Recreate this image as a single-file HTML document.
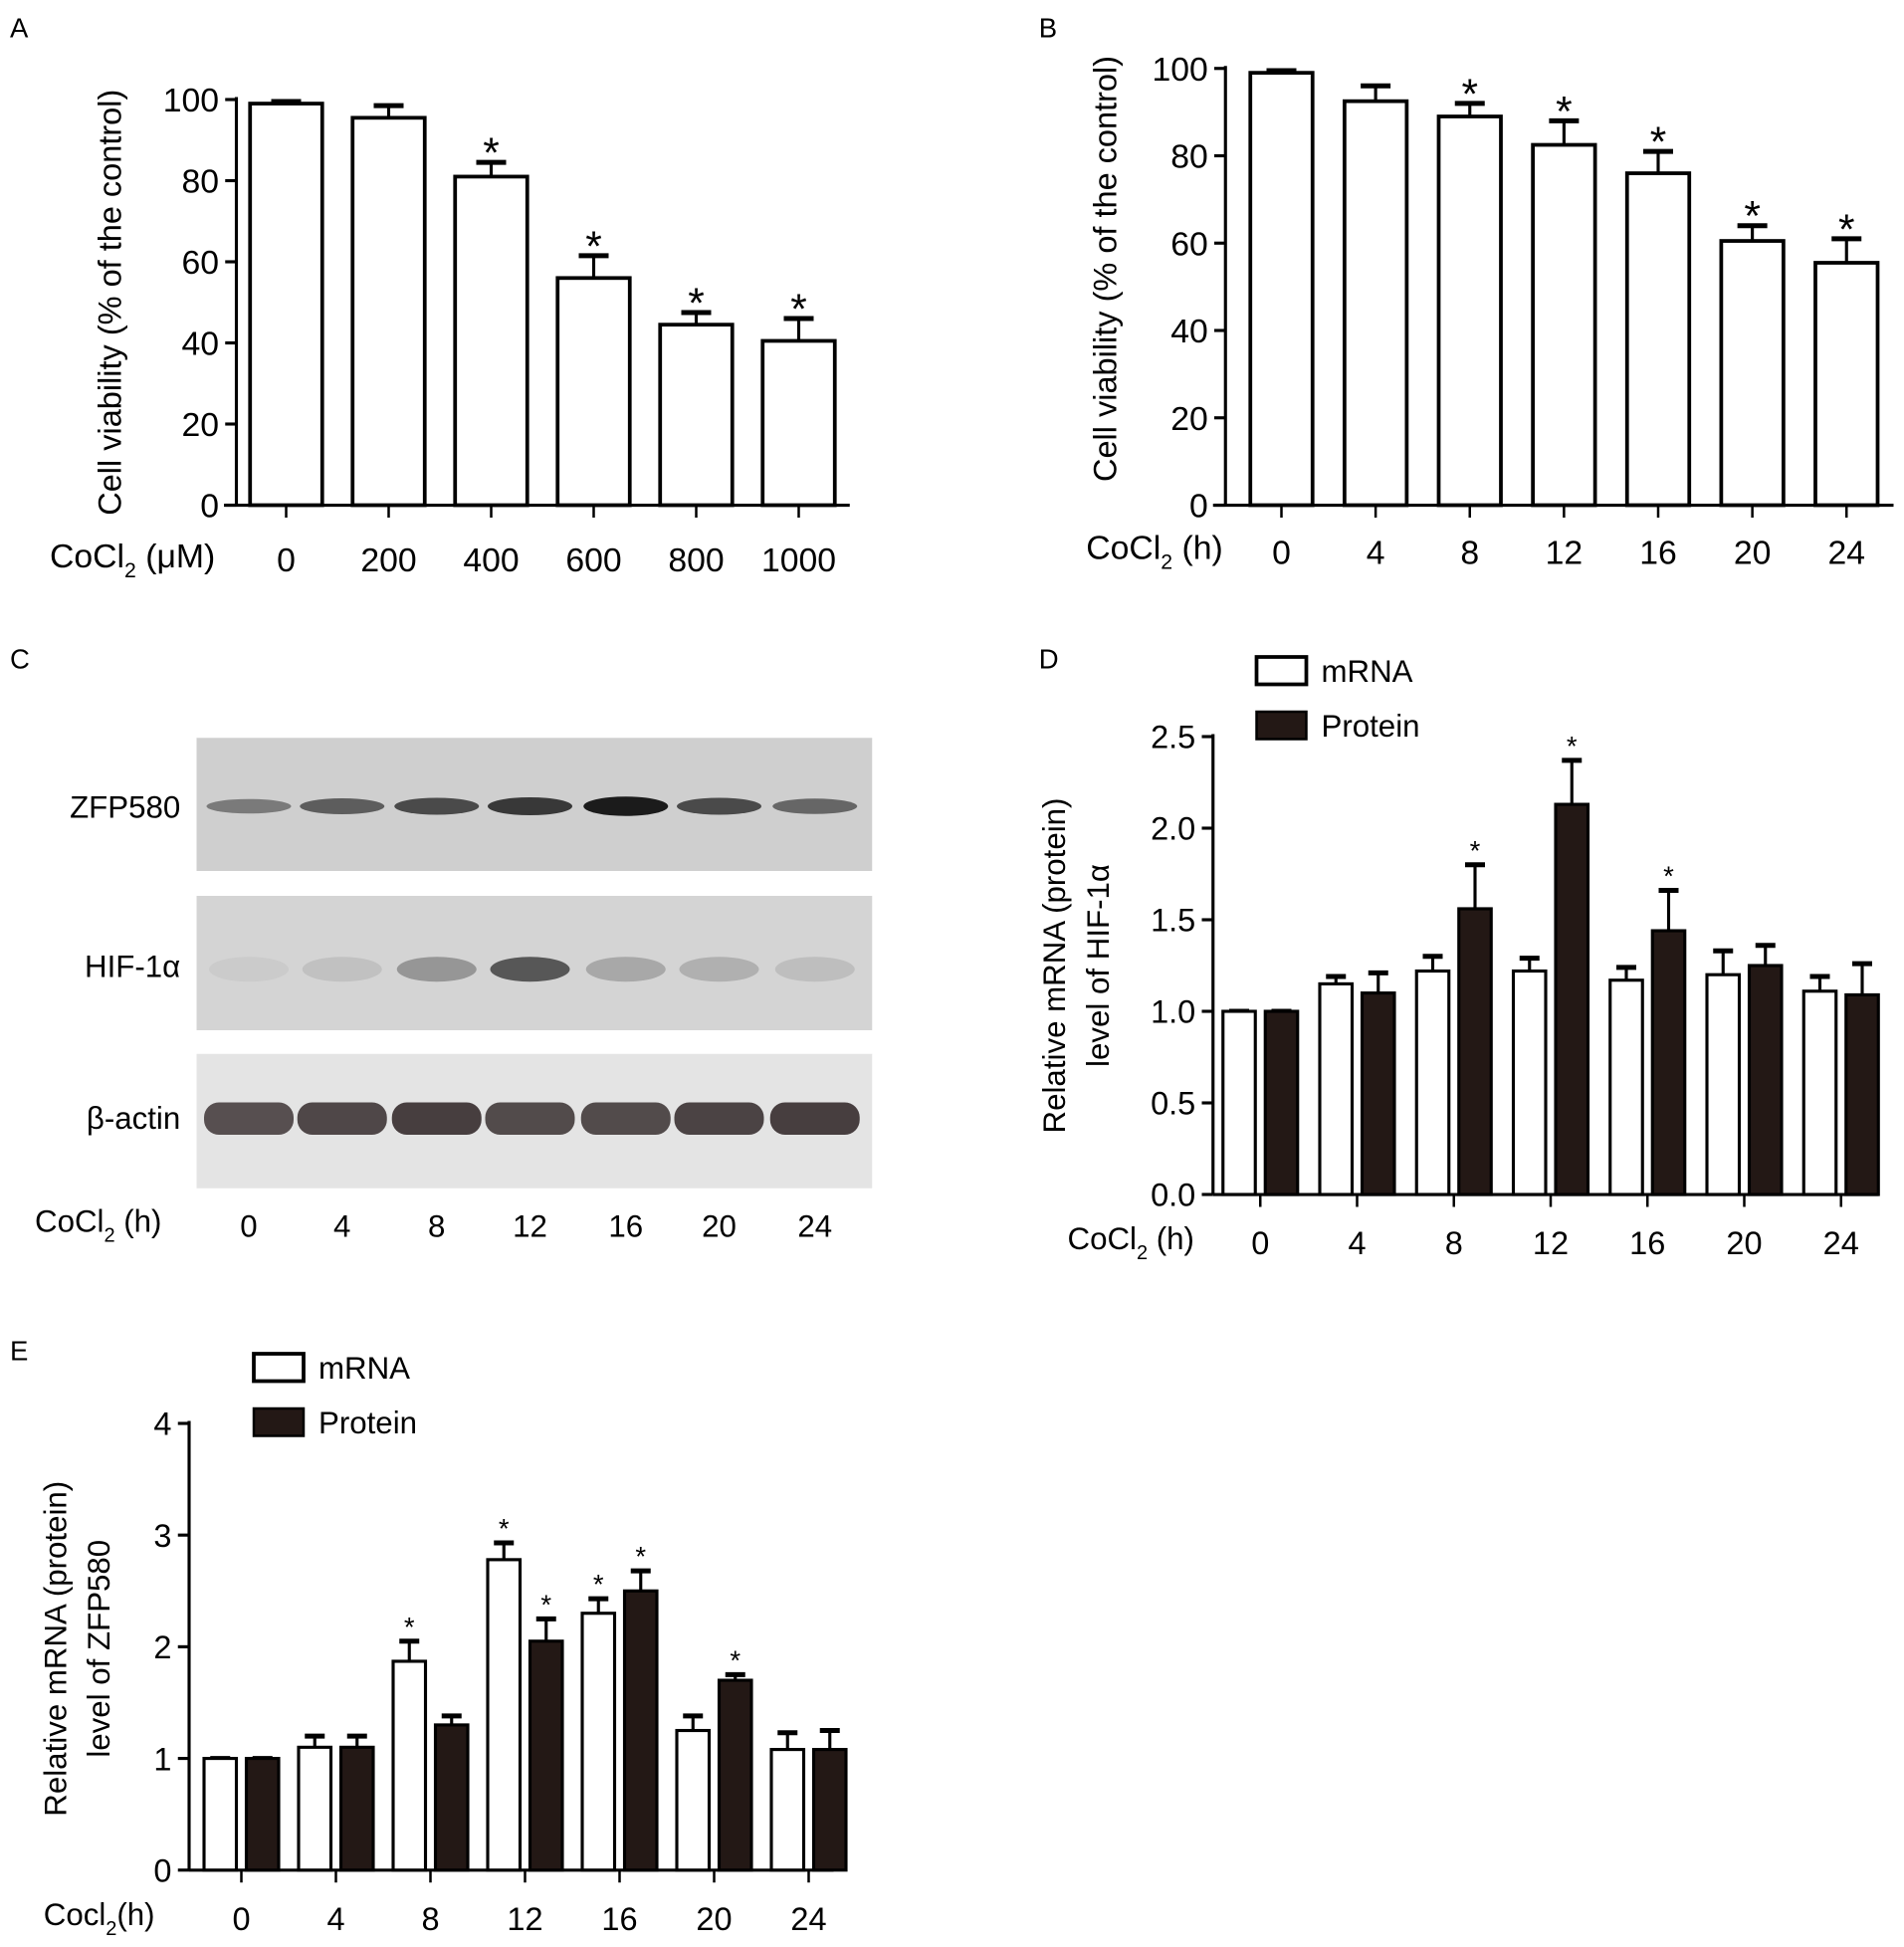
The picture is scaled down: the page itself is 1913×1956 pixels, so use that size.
<!DOCTYPE html>
<html><head><meta charset="utf-8"><style>
html,body{margin:0;padding:0;background:#fff;}
svg{display:block;font-family:"Liberation Sans",Arial,sans-serif;}
</style></head><body>
<svg id="fig" width="1913" height="1956" viewBox="0 0 1530.4 1564.8" xmlns="http://www.w3.org/2000/svg">
<g id="blots">
  <text x="8" y="537" font-size="22">C</text>
  <rect x="158" y="593" width="543" height="107" fill="#cfcfcf"/>
  <rect x="158" y="720" width="543" height="108" fill="#d4d4d4"/>
  <rect x="158" y="847" width="543" height="108" fill="#e4e4e4"/>
  <text x="145" y="657" font-size="25" text-anchor="end">ZFP580</text>
  <text x="145" y="785" font-size="25" text-anchor="end">HIF-1α</text>
  <text x="145" y="907" font-size="25" text-anchor="end">β-actin</text>
  <text x="28" y="990" font-size="25">CoCl<tspan font-size="16" dy="8">2</tspan><tspan dy="-8"> (h)</tspan></text>
</g>
<text x="40" y="456" font-size="27">CoCl<tspan font-size="17" dy="8">2</tspan><tspan dy="-8"> (μM)</tspan></text>
<text x="873" y="449" font-size="27">CoCl<tspan font-size="17" dy="8">2</tspan><tspan dy="-8"> (h)</tspan></text>
<text x="858" y="1004" font-size="25">CoCl<tspan font-size="16" dy="8">2</tspan><tspan dy="-8"> (h)</tspan></text>
<text x="35" y="1547" font-size="25">Cocl<tspan font-size="16" dy="8">2</tspan><tspan dy="-8">(h)</tspan></text>
<script>
const NS='http://www.w3.org/2000/svg';
const svg=document.getElementById('fig');
function mk(tag,attrs,parent){const e=document.createElementNS(NS,tag);for(const k in attrs)e.setAttribute(k,attrs[k]);(parent||svg).appendChild(e);return e;}

// ---------- data ----------
const catsA=['0','200','400','600','800','1000'];
const valsA=[99,95.5,81,56,44.5,40.5];
const errA=[0.5,3,3.5,5.5,3,5.5];
const starA=[false,false,true,true,true,true];
const ticksA=[0,20,40,60,80,100];

const catsB=['0','4','8','12','16','20','24'];
const valsB=[99,92.5,89,82.5,76,60.5,55.5];
const errB=[0.5,3.5,3,5.5,5,3.5,5.5];
const starB=[false,false,true,true,true,true,true];
const ticksB=[0,20,40,60,80,100];

const catsD=['0','4','8','12','16','20','24'];
const mrnaD=[1,1.15,1.22,1.22,1.17,1.2,1.11];
const mrnaErrD=[0,0.04,0.08,0.07,0.07,0.13,0.08];
const protD=[1,1.1,1.56,2.13,1.44,1.25,1.09];
const protErrD=[0,0.11,0.24,0.24,0.22,0.11,0.17];
const mrnaStarD=[false,false,false,false,false,false,false];
const protStarD=[false,false,true,true,true,false,false];
const ticksD=['0.0','0.5','1.0','1.5','2.0','2.5'];

const catsE=['0','4','8','12','16','20','24'];
const mrnaE=[1,1.1,1.87,2.78,2.3,1.25,1.08];
const mrnaErrE=[0,0.1,0.18,0.15,0.13,0.13,0.15];
const protE=[1,1.1,1.3,2.05,2.5,1.7,1.08];
const protErrE=[0,0.1,0.08,0.2,0.18,0.05,0.17];
const mrnaStarE=[false,false,true,true,true,false,false];
const protStarE=[false,false,false,true,true,true,false];
const ticksE=['0','1','2','3','4'];

const zfpInt=[0.45,0.6,0.7,0.8,0.95,0.7,0.55];
const hifInt=[0.05,0.1,0.35,0.7,0.25,0.2,0.12];
const actinInt=[0.85,0.9,0.95,0.88,0.88,0.92,0.95];

function axes(g,cfg){
  const {ax,y0,y1,xEnd,xStart,vmax,ticks,tickFs}=cfg;
  const y=v=>y0-(v/vmax)*(y0-y1);
  mk('line',{x1:ax,y1:y1-2,x2:ax,y2:y0,stroke:'#000','stroke-width':2.5},g);
  mk('line',{x1:xStart,y1:y0,x2:xEnd,y2:y0,stroke:'#000','stroke-width':2.5},g);
  ticks.forEach(t=>{const v=parseFloat(t);
    mk('line',{x1:ax-9,y1:y(v),x2:ax,y2:y(v),stroke:'#000','stroke-width':2.5},g);
    const tx=mk('text',{x:ax-14,y:y(v)+tickFs*0.36,'font-size':tickFs,'text-anchor':'end'},g);tx.textContent=t;
    
    
  });
  return y;
}
function errbar(g,cx,top,e,y,hw){
  if(e<=0)return;
  mk('line',{x1:cx,y1:top,x2:cx,y2:y(e),stroke:'#000','stroke-width':2.5},g);
  mk('line',{x1:cx-hw,y1:y(e),x2:cx+hw,y2:y(e),stroke:'#000','stroke-width':4},g);
}

// ---------- Panel A ----------
(function(){
  const g=mk('g',{});
  
  
  const y=axes(g,{ax:190,y0:406,y1:80,xStart:180,xEnd:683,vmax:100,ticks:ticksA.map(String),tickFs:27});
  const x0=230,step=82.4,bw=58;
  catsA.forEach((c,i)=>{const cx=x0+i*step;
    const top=y(valsA[i]);
    errbar(g,cx,top,valsA[i]+errA[i],y,12);
    const r=mk('rect',{x:cx-bw/2,y:top,width:bw,height:406-top,fill:'#fff',stroke:'#000','stroke-width':3},g);
    
    
    mk('line',{x1:cx,y1:406,x2:cx,y2:416,stroke:'#000','stroke-width':2},g);
    const t=mk('text',{x:cx,y:459,'font-size':27,'text-anchor':'middle'},g);t.textContent=c;
    
    
    if(starA[i]){const s=mk('text',{x:cx,y:y(valsA[i]+errA[i])+4,'font-size':34,'text-anchor':'middle'},g);s.textContent='*';
      
      }
  });
  const tl=mk('text',{x:8,y:30,'font-size':22},g);tl.textContent='A';
  
  
  const yt=mk('text',{transform:'translate(97,243) rotate(-90)','font-size':26,'text-anchor':'middle'},g);yt.textContent='Cell viability (% of the control)';
  
  
})();

// ---------- Panel B ----------
(function(){
  const g=mk('g',{});
  
  
  const y=axes(g,{ax:985,y0:406,y1:55,xStart:975,xEnd:1522,vmax:100,ticks:ticksB.map(String),tickFs:27});
  const x0=1030,step=75.7,bw=50;
  catsB.forEach((c,i)=>{const cx=x0+i*step;
    const top=y(valsB[i]);
    errbar(g,cx,top,valsB[i]+errB[i],y,12);
    const r=mk('rect',{x:cx-bw/2,y:top,width:bw,height:406-top,fill:'#fff',stroke:'#000','stroke-width':3},g);
    
    
    mk('line',{x1:cx,y1:406,x2:cx,y2:416,stroke:'#000','stroke-width':2},g);
    const t=mk('text',{x:cx,y:453,'font-size':27,'text-anchor':'middle'},g);t.textContent=c;
    
    
    if(starB[i]){const s=mk('text',{x:cx,y:y(valsB[i]+errB[i])+4,'font-size':34,'text-anchor':'middle'},g);s.textContent='*';
      
      }
  });
  const tl=mk('text',{x:835,y:30,'font-size':22},g);tl.textContent='B';
  
  
  const yt=mk('text',{transform:'translate(897,216) rotate(-90)','font-size':26,'text-anchor':'middle'},g);yt.textContent='Cell viability (% of the control)';
  
  
})();

// ---------- grouped panels ----------
function grouped(cfg){
  const g=mk('g',{});
  
  
  const y=axes(g,{ax:cfg.ax,y0:cfg.y0,y1:cfg.y1,xStart:cfg.ax,xEnd:cfg.xEnd,vmax:cfg.vmax,ticks:cfg.ticks,tickFs:26});
  const bw=26;
  cfg.cats.forEach((c,i)=>{const cx=cfg.x0+i*cfg.step;
    [[cfg.m,cfg.me,cfg.ms,'#fff',cx-17,'mrna'],[cfg.p,cfg.pe,cfg.ps,'#231815',cx+17,'protein']].forEach(([v,e,s,fill,bx,nm])=>{
      const top=y(v[i]);
      errbar(g,bx,top,v[i]+e[i],y,8);
      const r=mk('rect',{x:bx-bw/2,y:top,width:bw,height:cfg.y0-top,fill:fill,stroke:'#000','stroke-width':2.5},g);
      
      
      if(s[i]){const st=mk('text',{x:bx,y:y(v[i]+e[i])-4,'font-size':22,'text-anchor':'middle'},g);st.textContent='*';
        
        }
    });
    mk('line',{x1:cx,y1:cfg.y0,x2:cx,y2:cfg.y0+10,stroke:'#000','stroke-width':2},g);
    const t=mk('text',{x:cx,y:cfg.y0+48,'font-size':26,'text-anchor':'middle'},g);t.textContent=c;
    
    
  });
  const L=cfg.leg;
  const b1=mk('rect',{x:L[0],y:L[1],width:40,height:22,fill:'#fff',stroke:'#000','stroke-width':3},g);
  
  
  const b2=mk('rect',{x:L[0],y:L[1]+44,width:40,height:22,fill:'#231815',stroke:'#000','stroke-width':2},g);
  
  
  const t1=mk('text',{x:L[0]+52,y:L[1]+20,'font-size':25},g);t1.textContent='mRNA';
  
  
  const t2=mk('text',{x:L[0]+52,y:L[1]+64,'font-size':25},g);t2.textContent='Protein';
  
  
  const yl1=mk('text',{transform:`translate(${cfg.ylx},${cfg.yly}) rotate(-90)`,'font-size':25,'text-anchor':'middle'},g);yl1.textContent='Relative mRNA (protein)';
  
  
  const yl2=mk('text',{transform:`translate(${cfg.ylx+35},${cfg.yly}) rotate(-90)`,'font-size':25,'text-anchor':'middle'},g);yl2.textContent=cfg.ylab2;
  
  
  const pl=mk('text',{x:cfg.pl[0],y:cfg.pl[1],'font-size':22},g);pl.textContent=cfg.letter;
  
  
}
grouped({name:'panel-d-chart',ax:975,y0:960,y1:592,xEnd:1510,vmax:2.5,ticks:ticksD,cats:catsD,x0:1013,step:77.8,
  m:mrnaD,me:mrnaErrD,ms:mrnaStarD,p:protD,pe:protErrD,ps:protStarD,leg:[1010,528],ylx:856,yly:776,ylab2:'level of HIF-1α',
  pl:[835,537],letter:'D'});
grouped({name:'panel-e-chart',ax:152,y0:1503,y1:1144,xEnd:670,vmax:4,ticks:ticksE,cats:catsE,x0:194,step:76,
  m:mrnaE,me:mrnaErrE,ms:mrnaStarE,p:protE,pe:protErrE,ps:protStarE,leg:[204,1088],ylx:53,yly:1325,ylab2:'level of ZFP580',
  pl:[8,1093],letter:'E'});

// ---------- blot bands ----------
const laneX=[200,275,351,426,503,578,655];
const blotG=document.getElementById('blots');
laneX.forEach((cx,i)=>{
  const t=mk('text',{x:cx,y:994,'font-size':25,'text-anchor':'middle'},blotG);t.textContent=catsB[i];
  
  
  const z=mk('ellipse',{cx:cx,cy:648,rx:34,ry:4+4*zfpInt[i],fill:'#111','fill-opacity':zfpInt[i]},blotG);
  
  
  const h=mk('ellipse',{cx:cx,cy:779,rx:32,ry:10,fill:'#222','fill-opacity':hifInt[i]},blotG);
  
  
  const a=mk('rect',{x:cx-36,y:886,width:72,height:26,rx:12,fill:'#3e3536','fill-opacity':actinInt[i]},blotG);
  
  
});
</script>
</body></html>
